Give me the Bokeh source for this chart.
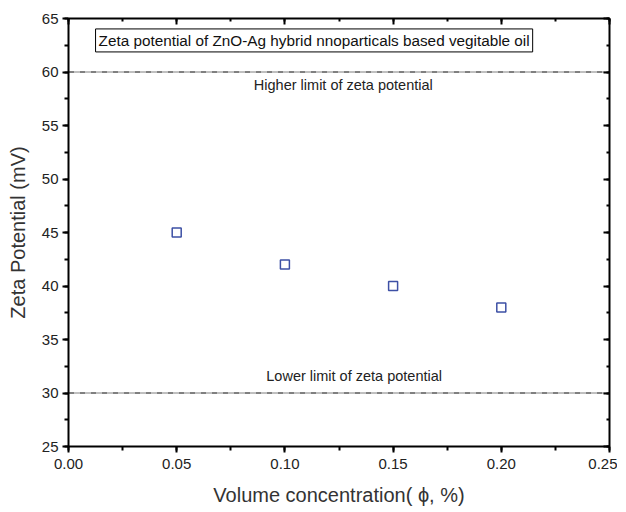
from bokeh.plotting import figure
from bokeh.models import (LinearAxis, Label, Span, SingleIntervalTicker, Range1d,
                          NumeralTickFormatter, CustomJSTickFormatter)
from bokeh.embed import file_html
from bokeh.resources import INLINE

conc = [0.05, 0.10, 0.15, 0.20]
zeta = [45, 42, 40, 38]
upper_limit = 60
lower_limit = 30
box_title = "Zeta potential of ZnO-Ag hybrid nnoparticals based vegitable oil"
upper_text = "Higher limit of zeta potential"
lower_text = "Lower limit of zeta potential"

FONT = "Liberation Sans"

p = figure(width=617, height=510, output_backend="svg", toolbar_location=None,
           x_range=Range1d(0, 0.25), y_range=Range1d(25, 65),
           x_axis_location=None, y_axis_location=None,
           min_border_left=68, min_border_right=8, min_border_top=18, min_border_bottom=64)
p.grid.visible = False
p.outline_line_color = None
p.background_fill_color = "white"

def style(ax, labels=True, inward=False):
    ax.axis_line_width = 2
    ax.axis_line_color = "black"
    ax.major_tick_line_width = 2
    ax.minor_tick_line_width = 2
    if inward:
        ax.major_tick_in = 6; ax.major_tick_out = 0
        ax.minor_tick_in = 3; ax.minor_tick_out = 0
    else:
        ax.major_tick_in = 0; ax.major_tick_out = 6
        ax.minor_tick_in = 0; ax.minor_tick_out = 4
    ax.major_label_text_font = FONT
    ax.major_label_text_font_size = "15px"
    ax.major_label_text_color = "#222222"
    ax.axis_label_text_font = FONT
    ax.axis_label_text_font_style = "normal"
    ax.axis_label_text_font_size = "20px"
    ax.axis_label_text_color = "#333333"
    if not labels:
        ax.formatter = CustomJSTickFormatter(code="return ''")
        ax.major_label_standoff = 0

xb = LinearAxis(ticker=SingleIntervalTicker(interval=0.05, num_minor_ticks=2),
                formatter=NumeralTickFormatter(format="0.00"),
                axis_label="Volume concentration( \u03d5, %)")
style(xb)
xb.major_label_standoff = 6
xb.axis_label_standoff = 12
p.add_layout(xb, "below")

yl = LinearAxis(ticker=SingleIntervalTicker(interval=5, num_minor_ticks=2),
                axis_label="Zeta Potential (mV)")
style(yl)
yl.major_label_standoff = 4
yl.axis_label_standoff = 10
p.add_layout(yl, "left")

xt = LinearAxis(ticker=SingleIntervalTicker(interval=0.05, num_minor_ticks=2))
style(xt, labels=False, inward=True)
p.add_layout(xt, "above")

yr = LinearAxis(ticker=SingleIntervalTicker(interval=5, num_minor_ticks=2))
style(yr, labels=False, inward=True)
p.add_layout(yr, "right")

for lv in (upper_limit, lower_limit):
    p.add_layout(Span(location=lv, dimension="width", line_color="black",
                      line_width=1, line_dash="6 1 1 1 1 1"))

p.scatter(conc, zeta, marker="square", size=9, fill_color="white",
          line_color="#3d50a5", line_width=1.5)

p.add_layout(Label(x=0.127, y=upper_limit, text=upper_text, text_align="center",
                   text_baseline="top", y_offset=-5, text_font=FONT,
                   text_font_size="14.5px", text_color="#222222"))
p.add_layout(Label(x=0.132, y=lower_limit, text=lower_text, text_align="center",
                   text_baseline="bottom", y_offset=9, text_font=FONT,
                   text_font_size="14.5px", text_color="#222222"))
p.add_layout(Label(x=0.1135, y=62.95, text=box_title, text_align="center",
                   text_baseline="middle", text_font=FONT, text_font_size="15.3px",
                   text_color="#111111", border_line_color="black", border_line_width=1,
                   background_fill_color="white", padding=3))

open("out.html", "w").write(file_html(p, INLINE))
